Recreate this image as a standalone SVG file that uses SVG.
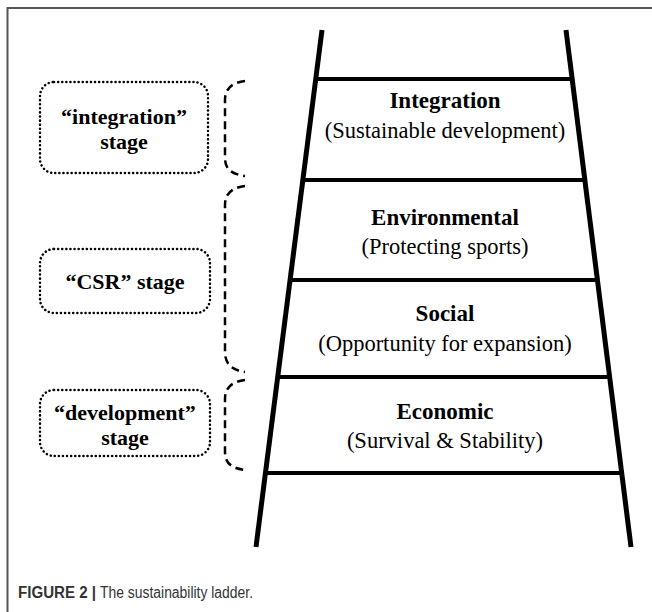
<svg xmlns="http://www.w3.org/2000/svg" width="652" height="612" viewBox="0 0 652 612">
<style>
.frame{stroke:#555;stroke-width:2;fill:none}
.rail{stroke:#000;stroke-width:5;stroke-linecap:butt;fill:none}
.rung{stroke:#000;stroke-width:4;fill:none}
.box{fill:none;stroke:#000;stroke-width:2.5;stroke-dasharray:0.1 4;stroke-linecap:round}
.brace{fill:none;stroke:#000;stroke-width:2.5;stroke-dasharray:8 5}
.t1{font-family:"Liberation Serif","Times New Roman",serif;font-weight:bold;font-size:23px;text-anchor:middle;fill:#000}
.t2{font-family:"Liberation Serif","Times New Roman",serif;font-size:22.5px;text-anchor:middle;fill:#000}
.st{font-family:"Liberation Serif","Times New Roman",serif;font-weight:bold;font-size:22px;text-anchor:middle;fill:#000}
.cap{font-family:"Liberation Sans",Arial,sans-serif;font-size:16px;fill:#333}
</style>
<rect width="652" height="612" fill="#fff"/>
<path class="frame" d="M7.5,612 V8 H652"/>
<g id="ladder">
<line class="rail" x1="322" y1="30" x2="256" y2="547"/>
<line class="rail" x1="566" y1="30" x2="631" y2="547"/>
<line class="rung" x1="316" y1="79" x2="572" y2="79"/>
<line class="rung" x1="303" y1="180" x2="585" y2="180"/>
<line class="rung" x1="290" y1="280" x2="598" y2="280"/>
<line class="rung" x1="277" y1="377" x2="610" y2="377"/>
<line class="rung" x1="265" y1="473" x2="622" y2="473"/>
</g>
<g id="integration">
<text class="t1" x="445" y="108">Integration</text>
<text class="t2" x="445" y="138">(Sustainable development)</text>
</g>
<g id="environmental">
<text class="t1" x="445" y="225">Environmental</text>
<text class="t2" x="445" y="254">(Protecting sports)</text>
</g>
<g id="social">
<text class="t1" x="445" y="321">Social</text>
<text class="t2" x="445" y="351">(Opportunity for expansion)</text>
</g>
<g id="economic">
<text class="t1" x="445" y="419">Economic</text>
<text class="t2" x="445" y="448">(Survival &amp; Stability)</text>
</g>
<g id="stage-integration">
<rect class="box" x="40" y="82" width="168" height="91" rx="14"/>
<text class="st" x="124" y="124">“integration”</text>
<text class="st" x="124" y="149">stage</text>
</g>
<g id="stage-csr">
<rect class="box" x="40" y="249" width="170" height="64" rx="14"/>
<text class="st" x="125" y="289">“CSR” stage</text>
</g>
<g id="stage-development">
<rect class="box" x="40" y="390" width="170" height="66" rx="14"/>
<text class="st" x="125" y="420">“development”</text>
<text class="st" x="125" y="445">stage</text>
</g>
<g id="connectors">
<path class="brace" d="M245,81 C230,83 225,90 225,100 V158 C225,168 230,174 245,176"/>
<path class="brace" d="M245,186 C230,188 225,195 225,205 V352 C225,362 230,370 245,372"/>
<path class="brace" d="M245,380 C230,382 225,389 225,399 V452 C225,462 230,468 245,470"/>
</g>
<g id="caption">
<text class="cap" x="18" y="598" font-weight="bold" textLength="78" lengthAdjust="spacingAndGlyphs">FIGURE 2 |</text>
<text class="cap" x="100" y="598" textLength="153" lengthAdjust="spacingAndGlyphs">The sustainability ladder.</text>
</g>
</svg>
